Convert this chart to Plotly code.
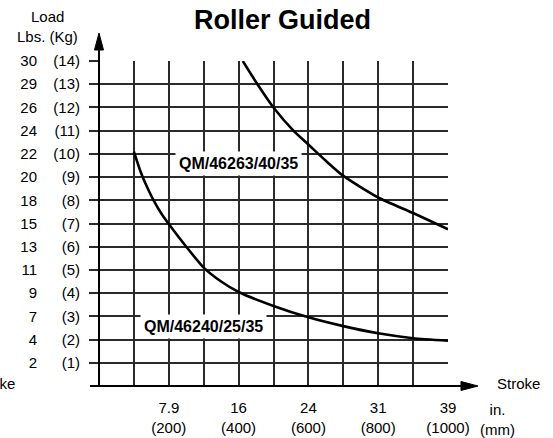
import plotly.graph_objects as go

# ---- data ----
upper_name = "QM/46263/40/35"
upper_stroke_mm = [412, 454, 500, 557, 600, 650, 700, 800, 900, 1000]
upper_load_kg = [14, 13, 12, 11, 10.4, 9.7, 9.05, 8.12, 7.45, 6.75]

lower_name = "QM/46240/25/35"
lower_stroke_mm = [100, 120, 140, 160, 180, 200, 250, 300, 350, 400, 500, 600, 700, 800, 900, 1000]
lower_load_kg = [10.1, 9.2, 8.5, 7.9, 7.4, 6.98, 6.0, 5.1, 4.5, 4.05, 3.45, 2.96, 2.58, 2.27, 2.06, 1.95]

kg_ticks = list(range(1, 15))
kg_labels = ["(%d)" % k for k in kg_ticks]
lbs_labels = ["2", "4", "7", "9", "11", "13", "15", "18", "20", "22", "24", "26", "29", "30"]

x_tick_mm = [200, 400, 600, 800, 1000]
x_tick_in = ["7.9", "16", "24", "31", "39"]
x_tick_mm_labels = ["(200)", "(400)", "(600)", "(800)", "(1000)"]

# ---- layout geometry (pixels) ----
W, H = 553, 438
L, R, T, B = 99, 448, 61, 386
FONT = "Liberation Sans, Arial, sans-serif"
GRID = "#2a2a2a"


def px(x):
    return (x - L) / (R - L)


def py(y):
    return (B - y) / (B - T)


fig = go.Figure()
fig.add_trace(go.Scatter(x=upper_stroke_mm, y=upper_load_kg, mode="lines",
                         line=dict(color="black", width=2.6, shape="spline", smoothing=0.6),
                         showlegend=False, hoverinfo="skip"))
fig.add_trace(go.Scatter(x=lower_stroke_mm, y=lower_load_kg, mode="lines",
                         line=dict(color="black", width=2.6, shape="spline", smoothing=0.6),
                         showlegend=False, hoverinfo="skip"))
# invisible trace so the lbs axis is drawn
fig.add_trace(go.Scatter(x=[0], y=[0], yaxis="y2", mode="markers",
                         marker=dict(opacity=0), showlegend=False, hoverinfo="skip"))

grid_vals = list(range(0, 1001, 100))
grid_text = []
for v in grid_vals:
    if v in x_tick_mm:
        i = x_tick_mm.index(v)
        grid_text.append(x_tick_in[i] + "<br>" + x_tick_mm_labels[i])
    else:
        grid_text.append("")

fig.update_layout(
    width=W, height=H,
    margin=dict(l=L, r=W - R, t=T, b=H - B, autoexpand=False),
    paper_bgcolor="white", plot_bgcolor="white",
    font=dict(family=FONT, size=15, color="black"),
    hovermode=False,
    xaxis=dict(range=[0, 1000], tickvals=grid_vals, ticktext=grid_text,
               showgrid=True, gridcolor=GRID, gridwidth=1.5,
               showline=False, zeroline=False, ticks="",
               ticklabelstandoff=11, fixedrange=True),
    yaxis=dict(range=[0, 14], tickvals=kg_ticks, ticktext=kg_labels,
               showgrid=True, gridcolor=GRID, gridwidth=1.5,
               showline=False, zeroline=False, ticks="outside", ticklen=9,
               tickcolor=GRID, tickwidth=1.5, ticklabelstandoff=6, fixedrange=True),
    yaxis2=dict(range=[0, 14], tickvals=kg_ticks, ticktext=lbs_labels,
                overlaying="y", side="left", anchor="x", showgrid=False,
                showline=False, zeroline=False, ticks="",
                ticklabelstandoff=61, fixedrange=True),
)

shapes = []
# y-axis line and arrow
shapes.append(dict(type="line", xref="paper", yref="paper", x0=px(99), x1=px(99),
                   y0=py(386), y1=py(48), line=dict(color="black", width=2)))
shapes.append(dict(type="path", xref="paper", yref="paper",
                   path="M %f,%f L %f,%f L %f,%f Z" % (px(94.5), py(50), px(99), py(33), px(103.5), py(50)),
                   fillcolor="black", line=dict(color="black", width=1)))
# x-axis line and arrow
shapes.append(dict(type="line", xref="paper", yref="paper", x0=px(90), x1=px(463),
                   y0=py(386), y1=py(386), line=dict(color="black", width=2)))
shapes.append(dict(type="path", xref="paper", yref="paper",
                   path="M %f,%f L %f,%f L %f,%f Z" % (px(461), py(381.5), px(478), py(386), px(461), py(390.5)),
                   fillcolor="black", line=dict(color="black", width=1)))
fig.update_layout(shapes=shapes)

ann = []
ann.append(dict(text="<b>Roller Guided</b>", x=px(282), y=py(20), xref="paper", yref="paper",
                showarrow=False, font=dict(size=27), xanchor="center", yanchor="middle"))
ann.append(dict(text="Load", x=px(47), y=py(16), xref="paper", yref="paper",
                showarrow=False, xanchor="center", yanchor="middle"))
ann.append(dict(text="Lbs. (Kg)", x=px(47), y=py(36), xref="paper", yref="paper",
                showarrow=False, xanchor="center", yanchor="middle"))
ann.append(dict(text="Stroke", x=px(495), y=py(383), xref="paper", yref="paper",
                showarrow=False, xanchor="left", yanchor="middle"))
ann.append(dict(text="Stroke", x=px(17), y=py(383), xref="paper", yref="paper",
                showarrow=False, xanchor="right", yanchor="middle"))
ann.append(dict(text="in.<br>(mm)", x=px(497), y=py(419), xref="paper", yref="paper",
                showarrow=False, xanchor="center", yanchor="middle"))
ann.append(dict(text="<b>" + upper_name + "</b>", x=401, y=9.6, xref="x", yref="y",
                showarrow=False, bgcolor="white", borderpad=3, font=dict(size=16),
                xanchor="center", yanchor="middle"))
ann.append(dict(text="<b>" + lower_name + "</b>", x=300, y=2.55, xref="x", yref="y",
                showarrow=False, bgcolor="white", borderpad=3, font=dict(size=16),
                xanchor="center", yanchor="middle"))
fig.update_layout(annotations=ann)

fig.write_html("out.html", config={"displayModeBar": False},
               post_script="document.body.style.margin='0';")
